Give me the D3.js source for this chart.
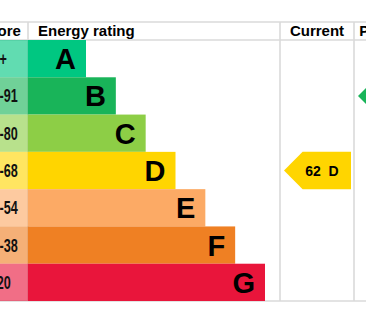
<!DOCTYPE html>
<html>
<head>
<meta charset="utf-8">
<script src="https://cdn.jsdelivr.net/npm/d3@7"></script>
<style>
    html, body { margin: 0; padding: 0; background: #fff; }
    svg { display: block; font-family: 'Liberation Sans', Arial, sans-serif; }
</style>
</head>
<body>
<svg width="366" height="311"></svg>
<script>
// rating bands, top (best) to bottom
const bands = ['A', 'B', 'C', 'D', 'E', 'F', 'G']
const scoreRanges = ['92+', '81-91', '69-80', '55-68', '39-54', '21-38', '1-20']
const bandColors = ['#00c781', '#19b459', '#8dce46', '#ffd500', '#fcaa65', '#ef8023', '#e9153b']
const barSteps = [1, 2, 3, 4, 5, 6, 7]
const headers = ['Score', 'Energy rating', 'Current', 'Potential']

const currentRating = { score: 62, band: 'D' }
const potentialRating = { score: 84, band: 'B' }

const svg = d3.select('svg')

// column edges (chart is cropped on both sides)
const cols = { score: [-28, 28], rating: [28, 280], current: [280, 354], potential: [354, 428] }
const tableTop = 22
const headerBottom = 40
const tableBottom = 301

const yScale = d3.scaleBand().domain(bands).range([headerBottom, tableBottom])
const lenScale = d3.scaleLinear().domain([1, 7]).range([cols.rating[0] + 58, cols.rating[0] + 237])
const colorOf = d3.scaleOrdinal().domain(bands).range(bandColors)

const grid = svg.append('g').attr('class', 'grid')
const rows = svg.append('g').attr('class', 'rows')
const headerG = svg.append('g').attr('class', 'headers')
const arrows = svg.append('g').attr('class', 'arrows')

// grid lines
grid.selectAll('line.h')
    .data([tableTop, headerBottom, tableBottom])
    .join('line')
    .attr('class', 'h')
    .attr('x1', -30).attr('x2', 430)
    .attr('y1', (d) => d).attr('y2', (d) => d)
    .attr('stroke', '#dadada')
    .attr('stroke-width', 1.6)

grid.selectAll('line.v')
    .data([cols.rating[0], cols.current[0], cols.potential[0]])
    .join('line')
    .attr('class', 'v')
    .attr('x1', (d) => d).attr('x2', (d) => d)
    .attr('y1', tableTop).attr('y2', tableBottom)
    .attr('stroke', '#dadada')
    .attr('stroke-width', 1.6)

// headers
const headerX = [
    (cols.score[0] + cols.score[1]) / 2,
    cols.rating[0] + 10,
    (cols.current[0] + cols.current[1]) / 2,
    (cols.potential[0] + cols.potential[1]) / 2,
]
headerG.selectAll('text')
    .data(headers)
    .join('text')
    .attr('x', (d, i) => headerX[i])
    .attr('y', (tableTop + headerBottom) / 2 + 5)
    .attr('text-anchor', (d, i) => (i === 1 ? 'start' : 'middle'))
    .attr('font-size', 15)
    .attr('font-weight', 'bold')
    .attr('fill', '#000')
    .text((d) => d)

// band rows
const row = rows.selectAll('g.band')
    .data(bands)
    .join('g')
    .attr('class', 'band')

row.append('rect')
    .attr('x', cols.score[0])
    .attr('y', (d) => yScale(d))
    .attr('width', cols.score[1] - cols.score[0])
    .attr('height', yScale.bandwidth())
    .attr('fill', (d) => colorOf(d))
    .attr('fill-opacity', 0.62)

row.append('rect')
    .attr('x', cols.rating[0])
    .attr('y', (d) => yScale(d))
    .attr('width', (d, i) => lenScale(barSteps[i]) - cols.rating[0])
    .attr('height', yScale.bandwidth())
    .attr('fill', (d) => colorOf(d))

// narrow score labels
row.append('text')
    .attr('transform', (d) => `translate(${cols.score[0] + 13.5}, ${yScale(d) + yScale.bandwidth() / 2 + 6.5}) scale(0.7, 1)`)
    .attr('font-size', 18)
    .attr('font-weight', 'bold')
    .attr('fill', '#111')
    .text((d, i) => scoreRanges[i])

row.append('text')
    .attr('x', (d, i) => lenScale(barSteps[i]) - 10)
    .attr('y', (d) => yScale(d) + yScale.bandwidth() / 2 + 10.5)
    .attr('text-anchor', 'end')
    .attr('font-size', 29)
    .attr('font-weight', 'bold')
    .attr('fill', '#000')
    .text((d) => d)

// rating arrows
const arrowPath = (x0, x1, y, h) => {
    const p = d3.path()
    p.moveTo(x0, y + h / 2)
    p.lineTo(x0 + h / 2, y)
    p.lineTo(x1, y)
    p.lineTo(x1, y + h)
    p.lineTo(x0 + h / 2, y + h)
    p.closePath()
    return p.toString()
}

const ratings = [
    { ...currentRating, col: cols.current },
    { ...potentialRating, col: cols.potential },
]

const arrow = arrows.selectAll('g.arrow')
    .data(ratings)
    .join('g')
    .attr('class', 'arrow')

arrow.append('path')
    .attr('d', (d) => arrowPath(d.col[0] + 4, d.col[1] - 3, yScale(d.band), yScale.bandwidth()))
    .attr('fill', (d) => colorOf(d.band))

arrow.append('text')
    .attr('x', (d) => d.col[0] + 42)
    .attr('y', (d) => yScale(d.band) + yScale.bandwidth() / 2 + 5)
    .attr('text-anchor', 'middle')
    .attr('font-size', 14)
    .attr('font-weight', 'bold')
    .attr('fill', '#000')
    .style('white-space', 'pre')
    .text((d) => `${d.score}  ${d.band}`)
</script>
</body>
</html>
